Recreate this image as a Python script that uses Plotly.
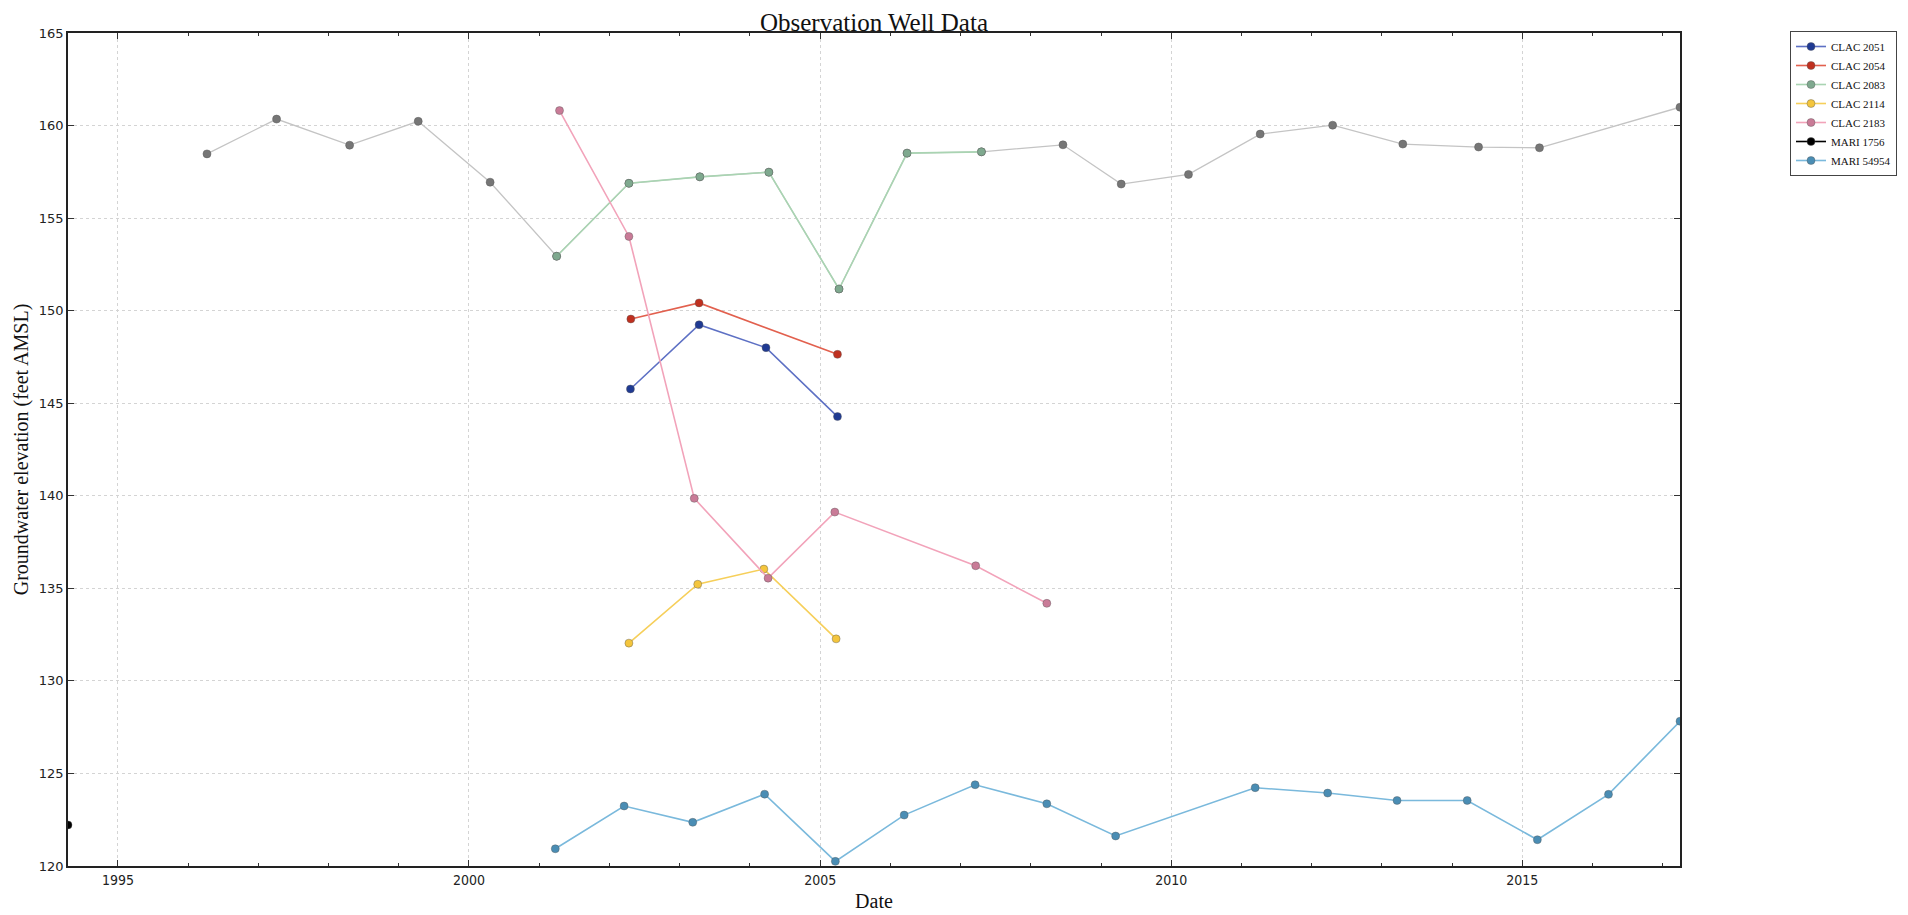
import plotly.graph_objects as go

# ---------------- data ----------------
clac2051_dates = ["2002-04-20", "2003-04-12", "2004-03-25", "2005-04-01"]
clac2051_vals = [145.77, 149.24, 148.00, 144.28]

clac2054_dates = ["2002-04-22", "2003-04-12", "2005-04-01"]
clac2054_vals = [149.55, 150.42, 147.64]

clac2083_dates = ["2001-04-01", "2002-04-12", "2003-04-16", "2004-04-09",
                  "2005-04-09", "2006-03-29", "2007-04-20"]
clac2083_vals = [152.94, 156.88, 157.23, 157.48, 151.17, 158.51, 158.58]

clac2114_dates = ["2002-04-12", "2003-04-05", "2004-03-14", "2005-03-25"]
clac2114_vals = [132.04, 135.22, 136.04, 132.27]

clac2183_dates = ["2001-04-16", "2002-04-12", "2003-03-18", "2004-04-05",
                  "2005-03-18", "2007-03-21", "2008-03-25"]
clac2183_vals = [160.81, 154.01, 139.86, 135.55, 139.12, 136.22, 134.19]

mari1756_dates = ["1994-04-16"]
mari1756_vals = [122.22]

mari54954_dates = ["2001-03-25", "2002-03-18", "2003-03-10", "2004-03-18",
                   "2005-03-21", "2006-03-14", "2007-03-18", "2008-03-25",
                   "2009-03-18", "2011-03-14", "2012-03-25", "2013-03-21",
                   "2014-03-21", "2015-03-21", "2016-03-25", "2017-04-01"]
mari54954_vals = [120.93, 123.24, 122.36, 123.88, 120.25, 122.75, 124.39, 123.36,
                  121.62, 124.23, 123.94, 123.54, 123.54, 121.42, 123.87, 127.82]

# unlabeled grey record (drawn beneath the legend series)
grey_dates = ["1996-04-08", "1997-04-05", "1998-04-20", "1999-04-12", "2000-04-20",
              "2001-04-01", "2002-04-12", "2003-04-16", "2004-04-09", "2005-04-09",
              "2006-03-29", "2007-04-20", "2008-06-17", "2009-04-16", "2010-04-01",
              "2011-04-09", "2012-04-20", "2013-04-20", "2014-05-19", "2015-04-01",
              "2017-04-01"]
grey_vals = [158.47, 160.35, 158.94, 160.23, 156.94, 152.94, 156.88, 157.23, 157.48,
             151.17, 158.51, 158.58, 158.96, 156.84, 157.36, 159.54, 160.02, 159.00,
             158.84, 158.80, 160.99]

y_ticks = [120, 125, 130, 135, 140, 145, 150, 155, 160, 165]

series = [
    ("CLAC 2051", clac2051_dates, clac2051_vals, "#5d70c4", "#1f3a93"),
    ("CLAC 2054", clac2054_dates, clac2054_vals, "#e2604e", "#c0301f"),
    ("CLAC 2083", clac2083_dates, clac2083_vals, "#a9d4b2", "#7fa98f"),
    ("CLAC 2114", clac2114_dates, clac2114_vals, "#f6cf5a", "#f4c53c"),
    ("CLAC 2183", clac2183_dates, clac2183_vals, "#f2a3ba", "#c97b97"),
    ("MARI 1756", mari1756_dates, mari1756_vals, "#000000", "#000000"),
    ("MARI 54954", mari54954_dates, mari54954_vals, "#7ab9dc", "#4a8db4"),
]

fig = go.Figure()

fig.add_trace(go.Scatter(
    x=grey_dates, y=grey_vals, mode="lines+markers", showlegend=False,
    name="grey", line=dict(color="#c4c4c4", width=1.3),
    marker=dict(color="#767676", size=8, line=dict(color="#5a5a5a", width=0.5)),
))

for name, d, v, lc, mc in series:
    fig.add_trace(go.Scatter(
        x=d, y=v, mode="lines+markers", name=name,
        line=dict(color=lc, width=1.6),
        marker=dict(color=mc, size=8, line=dict(color="#555555", width=0.4)),
    ))

all_dates = (grey_dates + clac2051_dates + clac2054_dates + clac2083_dates +
             clac2114_dates + clac2183_dates + mari1756_dates + mari54954_dates)
x_range = [min(all_dates), max(all_dates)]

serif = "Liberation Serif, Times New Roman, serif"

# page body has an 8px margin, so the figure is 8px smaller than the window
W, H = 1900, 907
L, R, T, B = 60, 227, 25, 49
plot_w = W - L - R
plot_h = H - T - B

fig.update_layout(
    width=W, height=H,
    margin=dict(l=L, r=R, t=T, b=B),
    paper_bgcolor="white", plot_bgcolor="white",
    title=dict(text="Observation Well Data", x=0.5, xref="paper",
               y=1 - 5 / H, yanchor="top", pad=dict(t=0, b=0),
               font=dict(family=serif, size=25, color="#111111")),
    legend=dict(x=(1782 - L) / plot_w, y=1 + 2 / plot_h, xanchor="left", yanchor="top",
                bgcolor="white", bordercolor="#444444", borderwidth=1,
                font=dict(family=serif, size=11, color="#111111"),
                itemwidth=30, tracegroupgap=0),
    showlegend=True,
)

fig.update_xaxes(
    type="date", range=x_range, autorange=False,
    tick0="1995-01-01", dtick="M60", tickformat="%Y",
    ticks="inside", ticklen=6, tickcolor="#333333",
    showgrid=True, gridcolor="#d4d4d4", griddash="dot", gridwidth=1,
    showline=True, linecolor="#222222", linewidth=1.5, mirror="ticks",
    zeroline=False, automargin=False,
    tickfont=dict(family="DejaVu Sans Condensed, DejaVu Sans", size=14, color="#222222"),
    minor=dict(dtick="M12", tick0="1995-01-01", ticks="inside", ticklen=3,
               tickcolor="#333333", showgrid=False),
    title=dict(text="Date", font=dict(family=serif, size=20, color="#111111"), standoff=7),
)

fig.update_yaxes(
    range=[120, 165], autorange=False,
    tickvals=y_ticks, ticktext=[str(t) for t in y_ticks],
    ticks="inside", ticklen=6, tickcolor="#333333",
    showgrid=True, gridcolor="#d4d4d4", griddash="dot", gridwidth=1,
    showline=True, linecolor="#222222", linewidth=1.5, mirror="ticks",
    zeroline=False, automargin=False,
    tickfont=dict(family="DejaVu Sans", size=13, color="#222222"),
    title=dict(text="Groundwater elevation (feet AMSL)",
               font=dict(family=serif, size=20, color="#111111"), standoff=5),
)

fig.write_html("out.html")
